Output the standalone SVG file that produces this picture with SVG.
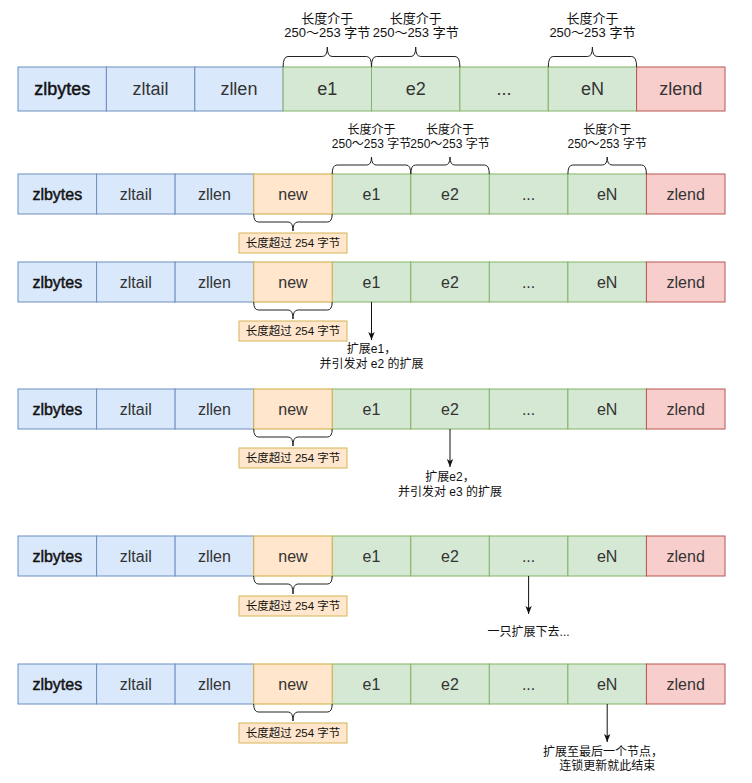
<svg xmlns="http://www.w3.org/2000/svg" width="752" height="783" viewBox="0 0 752 783">
  <style>
    text { font-family: "Liberation Sans", "Noto Sans CJK SC", sans-serif; text-anchor: middle; }
    .blue { fill: #dae8fc; stroke: #6c8ebf; stroke-width: 1; }
    .green { fill: #d5e8d4; stroke: #82b366; stroke-width: 1; }
    .red { fill: #f8cecc; stroke: #b85450; stroke-width: 1; }
    .orange { fill: #ffe6cc; stroke: #d6b656; stroke-width: 1.2; }
    .tag { fill: #ffe6cc; stroke: #d6b656; stroke-width: 1; }
    .big { font-size: 18px; fill: #333; }
    .cell { font-size: 16px; fill: #333; }
    .head { fill: #111; stroke: #111; stroke-width: 0.45; }
    .note1 { font-size: 13px; fill: #111; }
    .note { font-size: 12px; fill: #111; }
    .tagtext { font-size: 11.5px; fill: #111; }
    .brace { fill: none; stroke: #222; stroke-width: 1; }
    .arrow { fill: none; stroke: #111; stroke-width: 1; marker-end: url(#tip); }
  </style>
  <defs>
    <marker id="tip" viewBox="0 0 10 10" refX="10" refY="5" markerWidth="8" markerHeight="8" markerUnits="userSpaceOnUse" orient="auto">
      <path d="M0,1 L10,5 L0,9 L2.5,5 z" fill="#111"/>
    </marker>
  </defs>

  <!-- Row 1: original ziplist -->
  <g id="row1">
    <g id="r1-zlbytes"><rect class="blue" x="18" y="67" width="88.4" height="44"/><text class="big head" x="62.2" y="95.3">zlbytes</text></g>
    <g id="r1-zltail"><rect class="blue" x="106.4" y="67" width="88.4" height="44"/><text class="big" x="150.6" y="95.3">zltail</text></g>
    <g id="r1-zllen"><rect class="blue" x="194.8" y="67" width="88.4" height="44"/><text class="big" x="238.9" y="95.3">zllen</text></g>
    <g id="r1-e1"><rect class="green" x="283.1" y="67" width="88.4" height="44"/><text class="big" x="327.3" y="95.3">e1</text></g>
    <g id="r1-e2"><rect class="green" x="371.5" y="67" width="88.4" height="44"/><text class="big" x="415.7" y="95.3">e2</text></g>
    <g id="r1-dots"><rect class="green" x="459.9" y="67" width="88.4" height="44"/><text class="big" x="504.1" y="95.3">...</text></g>
    <g id="r1-eN"><rect class="green" x="548.3" y="67" width="88.4" height="44"/><text class="big" x="592.4" y="95.3">eN</text></g>
    <g id="r1-zlend"><rect class="red" x="636.6" y="67" width="88.4" height="44"/><text class="big" x="680.8" y="95.3">zlend</text></g>
  </g>
  <g id="r1-notes">
    <text class="note1" x="327.3" y="22.5">长度介于</text>
    <text class="note1" x="327.3" y="37">250～253 字节</text>
    <text class="note1" x="415.7" y="22.5">长度介于</text>
    <text class="note1" x="415.7" y="37">250～253 字节</text>
    <text class="note1" x="592.4" y="22.5">长度介于</text>
    <text class="note1" x="592.4" y="37">250～253 字节</text>
  </g>

  <!-- Row 2: new entry inserted -->
  <g id="row2">
    <g id="r2-zlbytes"><rect class="blue" x="18" y="174" width="78.6" height="40"/><text class="cell head" x="57.3" y="199.6">zlbytes</text></g>
    <g id="r2-zltail"><rect class="blue" x="96.6" y="174" width="78.6" height="40"/><text class="cell" x="135.8" y="199.6">zltail</text></g>
    <g id="r2-zllen"><rect class="blue" x="175.1" y="174" width="78.6" height="40"/><text class="cell" x="214.4" y="199.6">zllen</text></g>
    <g id="r2-e1"><rect class="green" x="332.2" y="174" width="78.6" height="40"/><text class="cell" x="371.5" y="199.6">e1</text></g>
    <g id="r2-e2"><rect class="green" x="410.8" y="174" width="78.6" height="40"/><text class="cell" x="450" y="199.6">e2</text></g>
    <g id="r2-dots"><rect class="green" x="489.3" y="174" width="78.6" height="40"/><text class="cell" x="528.6" y="199.6">...</text></g>
    <g id="r2-eN"><rect class="green" x="567.9" y="174" width="78.6" height="40"/><text class="cell" x="607.2" y="199.6">eN</text></g>
    <g id="r2-zlend"><rect class="red" x="646.4" y="174" width="78.6" height="40"/><text class="cell" x="685.7" y="199.6">zlend</text></g>
    <g id="r2-new"><rect class="orange" x="253.7" y="174" width="78.5" height="40"/><text class="cell" x="293" y="199.6">new</text></g>
  </g>
  <g id="r2-notes">
    <text class="note" x="371.5" y="134">长度介于</text>
    <text class="note" x="371.5" y="147.5">250～253 字节</text>
    <text class="note" x="450" y="134">长度介于</text>
    <text class="note" x="450" y="147.5">250～253 字节</text>
    <text class="note" x="607.2" y="134">长度介于</text>
    <text class="note" x="607.2" y="147.5">250～253 字节</text>
    <g id="r2-tag"><rect class="tag" x="239" y="233" width="108" height="20"/><text class="tagtext" x="293" y="247.2">长度超过 254 字节</text></g>
  </g>

  <!-- Row 3: e1 expands -->
  <g id="row3">
    <g id="r3-zlbytes"><rect class="blue" x="18" y="262" width="78.6" height="40"/><text class="cell head" x="57.3" y="287.6">zlbytes</text></g>
    <g id="r3-zltail"><rect class="blue" x="96.6" y="262" width="78.6" height="40"/><text class="cell" x="135.8" y="287.6">zltail</text></g>
    <g id="r3-zllen"><rect class="blue" x="175.1" y="262" width="78.6" height="40"/><text class="cell" x="214.4" y="287.6">zllen</text></g>
    <g id="r3-e1"><rect class="green" x="332.2" y="262" width="78.6" height="40"/><text class="cell" x="371.5" y="287.6">e1</text></g>
    <g id="r3-e2"><rect class="green" x="410.8" y="262" width="78.6" height="40"/><text class="cell" x="450" y="287.6">e2</text></g>
    <g id="r3-dots"><rect class="green" x="489.3" y="262" width="78.6" height="40"/><text class="cell" x="528.6" y="287.6">...</text></g>
    <g id="r3-eN"><rect class="green" x="567.9" y="262" width="78.6" height="40"/><text class="cell" x="607.2" y="287.6">eN</text></g>
    <g id="r3-zlend"><rect class="red" x="646.4" y="262" width="78.6" height="40"/><text class="cell" x="685.7" y="287.6">zlend</text></g>
    <g id="r3-new"><rect class="orange" x="253.7" y="262" width="78.5" height="40"/><text class="cell" x="293" y="287.6">new</text></g>
  </g>
  <g id="r3-notes">
    <g id="r3-tag"><rect class="tag" x="239" y="321" width="108" height="20"/><text class="tagtext" x="293" y="335.2">长度超过 254 字节</text></g>
    <text class="note" x="371.5" y="353">扩展e1，</text>
    <text class="note" x="371.5" y="367.5">并引发对 e2 的扩展</text>
  </g>

  <!-- Row 4: e2 expands -->
  <g id="row4">
    <g id="r4-zlbytes"><rect class="blue" x="18" y="389" width="78.6" height="40"/><text class="cell head" x="57.3" y="414.6">zlbytes</text></g>
    <g id="r4-zltail"><rect class="blue" x="96.6" y="389" width="78.6" height="40"/><text class="cell" x="135.8" y="414.6">zltail</text></g>
    <g id="r4-zllen"><rect class="blue" x="175.1" y="389" width="78.6" height="40"/><text class="cell" x="214.4" y="414.6">zllen</text></g>
    <g id="r4-e1"><rect class="green" x="332.2" y="389" width="78.6" height="40"/><text class="cell" x="371.5" y="414.6">e1</text></g>
    <g id="r4-e2"><rect class="green" x="410.8" y="389" width="78.6" height="40"/><text class="cell" x="450" y="414.6">e2</text></g>
    <g id="r4-dots"><rect class="green" x="489.3" y="389" width="78.6" height="40"/><text class="cell" x="528.6" y="414.6">...</text></g>
    <g id="r4-eN"><rect class="green" x="567.9" y="389" width="78.6" height="40"/><text class="cell" x="607.2" y="414.6">eN</text></g>
    <g id="r4-zlend"><rect class="red" x="646.4" y="389" width="78.6" height="40"/><text class="cell" x="685.7" y="414.6">zlend</text></g>
    <g id="r4-new"><rect class="orange" x="253.7" y="389" width="78.5" height="40"/><text class="cell" x="293" y="414.6">new</text></g>
  </g>
  <g id="r4-notes">
    <g id="r4-tag"><rect class="tag" x="239" y="448" width="108" height="20"/><text class="tagtext" x="293" y="462.2">长度超过 254 字节</text></g>
    <text class="note" x="450" y="481">扩展e2，</text>
    <text class="note" x="450" y="495.5">并引发对 e3 的扩展</text>
  </g>

  <!-- Row 5: cascade continues -->
  <g id="row5">
    <g id="r5-zlbytes"><rect class="blue" x="18" y="536" width="78.6" height="40"/><text class="cell head" x="57.3" y="561.6">zlbytes</text></g>
    <g id="r5-zltail"><rect class="blue" x="96.6" y="536" width="78.6" height="40"/><text class="cell" x="135.8" y="561.6">zltail</text></g>
    <g id="r5-zllen"><rect class="blue" x="175.1" y="536" width="78.6" height="40"/><text class="cell" x="214.4" y="561.6">zllen</text></g>
    <g id="r5-e1"><rect class="green" x="332.2" y="536" width="78.6" height="40"/><text class="cell" x="371.5" y="561.6">e1</text></g>
    <g id="r5-e2"><rect class="green" x="410.8" y="536" width="78.6" height="40"/><text class="cell" x="450" y="561.6">e2</text></g>
    <g id="r5-dots"><rect class="green" x="489.3" y="536" width="78.6" height="40"/><text class="cell" x="528.6" y="561.6">...</text></g>
    <g id="r5-eN"><rect class="green" x="567.9" y="536" width="78.6" height="40"/><text class="cell" x="607.2" y="561.6">eN</text></g>
    <g id="r5-zlend"><rect class="red" x="646.4" y="536" width="78.6" height="40"/><text class="cell" x="685.7" y="561.6">zlend</text></g>
    <g id="r5-new"><rect class="orange" x="253.7" y="536" width="78.5" height="40"/><text class="cell" x="293" y="561.6">new</text></g>
  </g>
  <g id="r5-notes">
    <g id="r5-tag"><rect class="tag" x="239" y="596" width="108" height="20"/><text class="tagtext" x="293" y="610.2">长度超过 254 字节</text></g>
    <text class="note" x="528.6" y="636">一只扩展下去...</text>
  </g>

  <!-- Row 6: cascade reaches the last entry -->
  <g id="row6">
    <g id="r6-zlbytes"><rect class="blue" x="18" y="664" width="78.6" height="40"/><text class="cell head" x="57.3" y="689.6">zlbytes</text></g>
    <g id="r6-zltail"><rect class="blue" x="96.6" y="664" width="78.6" height="40"/><text class="cell" x="135.8" y="689.6">zltail</text></g>
    <g id="r6-zllen"><rect class="blue" x="175.1" y="664" width="78.6" height="40"/><text class="cell" x="214.4" y="689.6">zllen</text></g>
    <g id="r6-e1"><rect class="green" x="332.2" y="664" width="78.6" height="40"/><text class="cell" x="371.5" y="689.6">e1</text></g>
    <g id="r6-e2"><rect class="green" x="410.8" y="664" width="78.6" height="40"/><text class="cell" x="450" y="689.6">e2</text></g>
    <g id="r6-dots"><rect class="green" x="489.3" y="664" width="78.6" height="40"/><text class="cell" x="528.6" y="689.6">...</text></g>
    <g id="r6-eN"><rect class="green" x="567.9" y="664" width="78.6" height="40"/><text class="cell" x="607.2" y="689.6">eN</text></g>
    <g id="r6-zlend"><rect class="red" x="646.4" y="664" width="78.6" height="40"/><text class="cell" x="685.7" y="689.6">zlend</text></g>
    <g id="r6-new"><rect class="orange" x="253.7" y="664" width="78.5" height="40"/><text class="cell" x="293" y="689.6">new</text></g>
  </g>
  <g id="r6-notes">
    <g id="r6-tag"><rect class="tag" x="239" y="723" width="108" height="20"/><text class="tagtext" x="293" y="737.2">长度超过 254 字节</text></g>
    <text class="note" x="603" y="756">扩展至最后一个节点，</text>
    <text class="note" x="607.2" y="770">连锁更新就此结束</text>
  </g>

  <!-- Connectors: braces and arrows -->
  <g id="connectors">
    <path class="brace" d="M283.1,67 Q283.1,56.5 288,56.5 L322.5,56.5 Q327.3,56.5 327.3,47 Q327.3,56.5 332.1,56.5 L366.6,56.5 Q371.5,56.5 371.5,67"/>
    <path class="brace" d="M371.5,67 Q371.5,56.5 376.4,56.5 L410.9,56.5 Q415.7,56.5 415.7,47 Q415.7,56.5 420.5,56.5 L455,56.5 Q459.9,56.5 459.9,67"/>
    <path class="brace" d="M548.3,67 Q548.3,56.5 553.2,56.5 L587.6,56.5 Q592.4,56.5 592.4,47 Q592.4,56.5 597.2,56.5 L631.7,56.5 Q636.6,56.5 636.6,67"/>

    <path class="brace" d="M332.2,174 Q332.2,165 337,165 L366.7,165 Q371.5,165 371.5,157 Q371.5,165 376.3,165 L406,165 Q410.8,165 410.8,174"/>
    <path class="brace" d="M410.8,174 Q410.8,165 415.6,165 L445.2,165 Q450,165 450,157 Q450,165 454.8,165 L484.5,165 Q489.3,165 489.3,174"/>
    <path class="brace" d="M567.9,174 Q567.9,165 572.7,165 L602.4,165 Q607.2,165 607.2,157 Q607.2,165 612,165 L641.6,165 Q646.4,165 646.4,174"/>

    <path class="brace" d="M253.7,214 Q253.7,222 258.5,222 L288.2,222 Q293,222 293,231 Q293,222 297.8,222 L327.4,222 Q332.2,222 332.2,214"/>
    <path class="brace" d="M253.7,302 Q253.7,310 258.5,310 L288.2,310 Q293,310 293,319 Q293,310 297.8,310 L327.4,310 Q332.2,310 332.2,302"/>
    <path class="brace" d="M253.7,429 Q253.7,437 258.5,437 L288.2,437 Q293,437 293,446 Q293,437 297.8,437 L327.4,437 Q332.2,437 332.2,429"/>
    <path class="brace" d="M253.7,576 Q253.7,584 258.5,584 L288.2,584 Q293,584 293,594 Q293,584 297.8,584 L327.4,584 Q332.2,584 332.2,576"/>
    <path class="brace" d="M253.7,704 Q253.7,712 258.5,712 L288.2,712 Q293,712 293,721 Q293,712 297.8,712 L327.4,712 Q332.2,712 332.2,704"/>

    <path class="arrow" d="M371.5,302 L371.5,340"/>
    <path class="arrow" d="M450,429 L450,467"/>
    <path class="arrow" d="M528.6,576 L528.6,614"/>
    <path class="arrow" d="M607.2,704 L607.2,742"/>
  </g>
</svg>
